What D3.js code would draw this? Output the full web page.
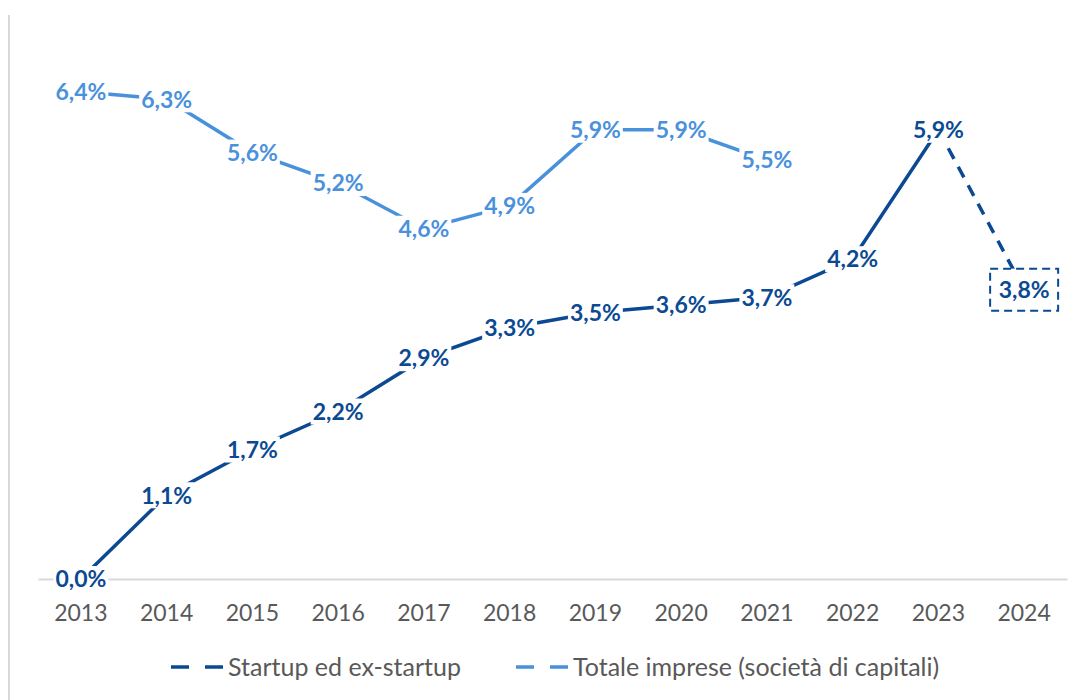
<!DOCTYPE html>
<html>
<head>
<meta charset="utf-8">
<script src="https://cdn.jsdelivr.net/npm/d3@7"></script>
<style>
  body { margin: 0; background: #fff; }
  svg { display: block; }
</style>
</head>
<body>
<div id="chart"></div>
<script>
// data
var years = ["2013", "2014", "2015", "2016", "2017", "2018", "2019", "2020", "2021", "2022", "2023", "2024"];
var startupValues = [0.0, 1.1, 1.7, 2.2, 2.9, 3.3, 3.5, 3.6, 3.7, 4.2, 5.9, 3.8];
var totaleYears = ["2013", "2014", "2015", "2016", "2017", "2018", "2019", "2020", "2021"];
var totaleValues = [6.4, 6.3, 5.6, 5.2, 4.6, 4.9, 5.9, 5.9, 5.5];
var seriesNames = ["Startup ed ex-startup", "Totale imprese (società di capitali)"];

var dark = "#0b4a92",
    light = "#4a91dc";

var width = 1082,
    height = 700;

var svg = d3.select("#chart").append("svg")
    .attr("width", width)
    .attr("height", height);

// left border of the chart frame
svg.append("line")
    .attr("x1", 9).attr("x2", 9)
    .attr("y1", 15).attr("y2", height)
    .attr("stroke", "#d9d9d9")
    .attr("stroke-width", 2);

var x = d3.scaleBand()
    .domain(years)
    .range([38, 1067]);

var y = d3.scaleLinear()
    .domain([0, 7])
    .range([579, 46]);

var cx = function(yr) { return x(yr) + x.bandwidth() / 2; };

// x axis
var xAxis = svg.append("g")
    .attr("transform", "translate(0," + y(0) + ")")
    .call(d3.axisBottom(x).tickSize(0).tickPadding(26));

xAxis.select(".domain")
    .attr("stroke", "#d9d9d9")
    .attr("stroke-width", 2);

xAxis.selectAll("text")
    .style("font-family", "Lato, 'Open Sans', sans-serif")
    .style("font-size", "23px")
    .attr("fill", "#595959");

var line = d3.line()
    .x(function(d) { return cx(d.year); })
    .y(function(d) { return y(d.value); });

var startupData = years.map(function(yr, i) { return {year: yr, value: startupValues[i]}; });
var totaleData = totaleYears.map(function(yr, i) { return {year: yr, value: totaleValues[i]}; });

// totale imprese line
svg.append("path")
    .datum(totaleData)
    .attr("fill", "none")
    .attr("stroke", light)
    .attr("stroke-width", 3.5)
    .attr("d", line);

// startup line, solid up to 2023 then dashed to 2024
svg.append("path")
    .datum(startupData.slice(0, 11))
    .attr("fill", "none")
    .attr("stroke", dark)
    .attr("stroke-width", 3.5)
    .attr("d", line);

svg.append("path")
    .datum(startupData.slice(10))
    .attr("fill", "none")
    .attr("stroke", dark)
    .attr("stroke-width", 3.5)
    .attr("stroke-dasharray", "12,9")
    .attr("d", line);

function fmt(v) {
    return v.toFixed(1).replace(".", ",") + "%";
}

function addLabels(data, color, cls) {
    var g = svg.append("g").attr("class", cls);
    var items = g.selectAll("g").data(data).enter().append("g")
        .attr("transform", function(d) { return "translate(" + cx(d.year) + "," + y(d.value) + ")"; });

    items.append("rect").attr("fill", "#fff");

    items.append("text")
        .attr("text-anchor", "middle")
        .attr("dy", "0.36em")
        .style("font-family", "Lato, 'Open Sans', sans-serif")
        .style("font-weight", "bold")
        .style("font-size", "23px")
        .attr("fill", color)
        .text(function(d) { return fmt(d.value); });

    items.each(function() {
        var t = d3.select(this).select("text").node().getBBox();
        d3.select(this).select("rect")
            .attr("x", t.x - 2)
            .attr("y", -13)
            .attr("width", t.width + 4)
            .attr("height", 26);
    });
    return items;
}

addLabels(totaleData, light, "labels-totale");
var startLabels = addLabels(startupData, dark, "labels-startup");

// dashed frame around the 2024 estimate
startLabels.filter(function(d) { return d.year == "2024"; })
    .select("rect")
    .attr("x", -34)
    .attr("y", -21)
    .attr("width", 68)
    .attr("height", 42)
    .attr("stroke", dark)
    .attr("stroke-width", 2)
    .attr("stroke-dasharray", "8,5");

// legend
var legend = svg.append("g");
var legendItems = [
    {name: seriesNames[0], color: dark, x: 171},
    {name: seriesNames[1], color: light, x: 516}
];

legendItems.forEach(function(it) {
    legend.append("line")
        .attr("x1", it.x).attr("x2", it.x + 53)
        .attr("y1", 667).attr("y2", 667)
        .attr("stroke", it.color)
        .attr("stroke-width", 3.5)
        .attr("stroke-dasharray", "18,16");
    legend.append("text")
        .attr("x", it.x + 57)
        .attr("y", 667)
        .attr("dy", "0.35em")
        .style("font-family", "Lato, 'Open Sans', sans-serif")
        .style("font-size", "25px")
        .attr("fill", "#595959")
        .text(it.name);
});
</script>
</body>
</html>
